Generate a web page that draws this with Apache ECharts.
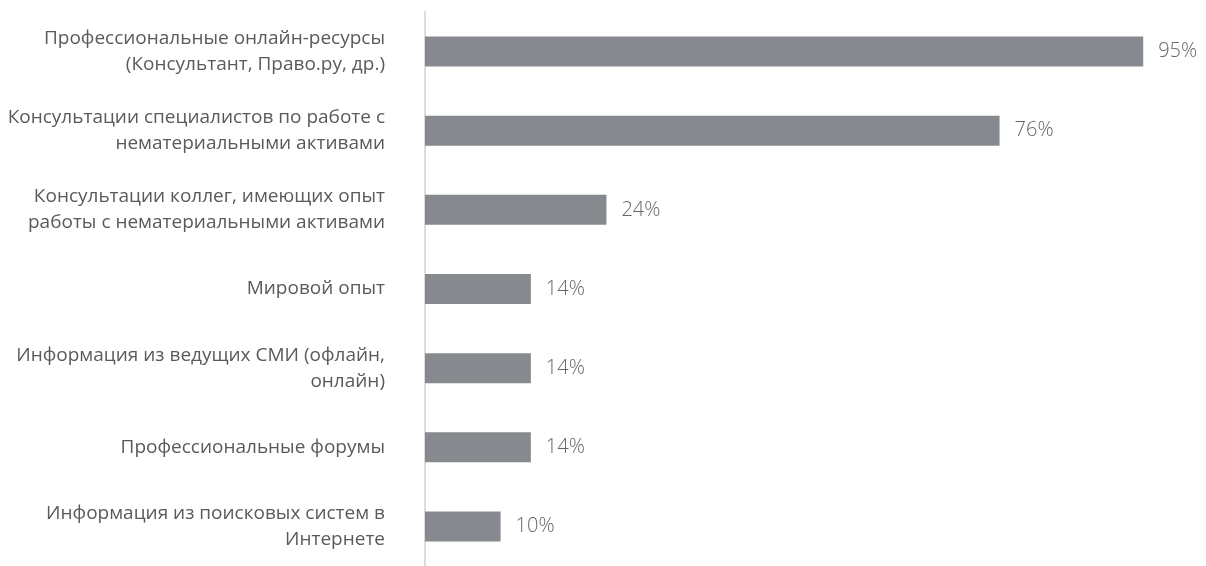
<!DOCTYPE html>
<html>
<head>
<meta charset="utf-8">
<script src="https://cdn.jsdelivr.net/npm/echarts@6/dist/echarts.min.js"></script>
<style>
  html, body { margin: 0; padding: 0; background: #ffffff; }
  #chart { width: 1206px; height: 566px; }
</style>
</head>
<body>
<div id="chart"></div>
<script>
// Information sources, top to bottom
const categories = [
  'Профессиональные онлайн-ресурсы\n(Консультант, Право.ру, др.)',
  'Консультации специалистов по работе с\nнематериальными активами',
  'Консультации коллег, имеющих опыт\nработы с нематериальными активами',
  'Мировой опыт',
  'Информация из ведущих СМИ (офлайн,\nонлайн)',
  'Профессиональные форумы',
  'Информация из поисковых систем в\nИнтернете'
];
const shares = [95, 76, 24, 14, 14, 14, 10];

const chart = echarts.init(document.getElementById('chart'), null, { renderer: 'canvas' });

chart.setOption({
  animation: false,
  backgroundColor: '#ffffff',
  grid: { left: 425, top: 12, width: 756, height: 559, containLabel: false },
  xAxis: {
    type: 'value',
    min: 0,
    max: 100,
    show: false
  },
  yAxis: {
    type: 'category',
    inverse: true,
    data: categories,
    axisLine: { show: true, lineStyle: { color: '#dcdcdc', width: 2 } },
    axisTick: { show: false },
    axisLabel: {
      margin: 40,
      fontFamily: 'Open Sans',
      fontSize: 19,
      lineHeight: 26,
      color: '#5a5a5a',
      align: 'right'
    }
  },
  series: [{
    type: 'bar',
    data: shares,
    barWidth: 30,
    itemStyle: { color: '#86898e' },
    label: {
      show: true,
      position: 'right',
      distance: 15,
      formatter: '{c}%',
      fontFamily: 'Open Sans',
      fontWeight: 300,
      fontSize: 20,
      color: '#666666'
    }
  }]
});
</script>
</body>
</html>
